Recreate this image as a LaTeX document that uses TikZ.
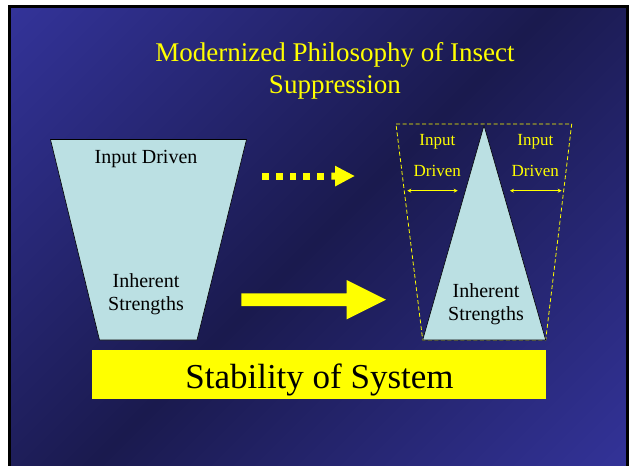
\documentclass[tikz,border=0pt]{standalone}
\usepackage{fontspec}
\setmainfont{Liberation Serif}
\usetikzlibrary{arrows.meta}
\definecolor{bglight}{RGB}{51,51,153}
\definecolor{bgdark}{RGB}{26,26,78}
\definecolor{boxcyan}{RGB}{187,224,227}
\definecolor{ylw}{RGB}{255,255,0}
\pgfdeclarehorizontalshading{slidebg}{100bp}{color(0bp)=(bglight); color(14.6bp)=(bglight); color(50bp)=(bgdark); color(85.4bp)=(bglight); color(100bp)=(bglight)}
\begin{document}
\begin{tikzpicture}[x=1pt,y=-1pt,
  piece/.style={fill=boxcyan, draw=black, line width=0.6pt, line join=miter},
  titletxt/.style={inner sep=0pt, anchor=base, text=ylw, font=\fontsize{27}{32}\selectfont},
  lbl/.style={inner sep=0pt, anchor=base, text=black, font=\fontsize{20}{24}\selectfont},
  smalllbl/.style={inner sep=0pt, anchor=base, text=ylw, font=\fontsize{17}{20}\selectfont},
  dbl/.style={draw=ylw, line width=0.8pt, {Stealth[length=4pt,width=4pt]}-{Stealth[length=4pt,width=4pt]}},
  dashframe/.style={draw=ylw, line width=0.8pt, dash pattern=on 4pt off 2.5pt}
]
\useasboundingbox (0,0) rectangle (633,466);
\fill[white] (0,0) rectangle (633,466);
\path[shading=slidebg, shading angle=-45] (9.5,6.5) rectangle (627.5,472);
\draw[line width=3pt] (9.5,6.5) rectangle (627.5,472);

% title
\node[titletxt] (t1) at (335,61) {Modernized Philosophy of Insect};
\node[titletxt] (t2) at (335,93) {Suppression};

% left trapezoid
\draw[piece] (50.5,139.5) -- (246.5,139.5) -- (197,340) -- (99.5,340) -- cycle;
\node[lbl] (lin) at (146,163) {Input Driven};
\node[lbl] (lih) at (146,287) {Inherent};
\node[lbl] (lis) at (146,310) {Strengths};

% dotted arrow
\foreach \x in {262.3,276,289.7,303.3,317.3}
  \fill[ylw] (\x,172.5) rectangle ++(6.7,7);
\fill[ylw] (331.3,172.5) -- (335,172.5) -- (335,165.7) -- (354.5,176) -- (335,186.5) -- (335,179.5) -- (331.3,179.5) -- cycle;

% solid arrow
\fill[ylw] (241.3,293.3) -- (346.7,293.3) -- (346.7,280) -- (386,299.7) -- (346.7,319.3) -- (346.7,306) -- (241.3,306) -- cycle;

% right figure
\draw[dashframe] (396,124) -- (571.7,124) -- (545.7,340) -- (422.7,340) -- cycle;
\draw[piece] (484,125.5) -- (545.7,340) -- (422.7,340) -- cycle;
\node[smalllbl] (ri1) at (437.3,145) {Input};
\node[smalllbl] (rd1) at (437.3,176) {Driven};
\node[smalllbl] (ri2) at (535.3,145) {Input};
\node[smalllbl] (rd2) at (535.3,176) {Driven};
\coordinate (a1) at (407.3,190.7);
\coordinate (a2) at (457.7,190.7);
\coordinate (a3) at (510,190.7);
\coordinate (a4) at (561.7,190.7);
\draw[dbl] (a1) -- (a2);
\draw[dbl] (a3) -- (a4);
\node[lbl] (rih) at (486,297) {Inherent};
\node[lbl] (ris) at (486,320) {Strengths};

% stability box
\fill[ylw] (92,350) rectangle (546,399);
\node[inner sep=0pt, anchor=base, text=black, font=\fontsize{35}{40}\selectfont] (stab) at (319.5,388.5) {Stability of System};
\end{tikzpicture}
\end{document}
